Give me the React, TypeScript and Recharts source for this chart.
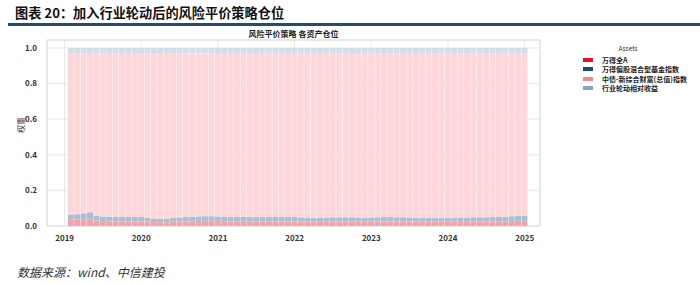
import React from 'react';
import { BarChart, Bar, XAxis, YAxis, CartesianGrid, ReferenceArea } from 'recharts';

// month-end positions, Jan 2019 .. Dec 2024
const YEARS = [2019, 2020, 2021, 2022, 2023, 2024];

const wandeQuanA = [
  0.035, 0.036, 0.038, 0.040, 0.030, 0.028, 0.027, 0.027, 0.026, 0.027, 0.027, 0.026,
  0.025, 0.022, 0.021, 0.022, 0.024, 0.025, 0.026, 0.027, 0.028, 0.029, 0.029, 0.028,
  0.027, 0.026, 0.026, 0.027, 0.027, 0.026, 0.026, 0.027, 0.027, 0.026, 0.026, 0.026,
  0.025, 0.024, 0.024, 0.023, 0.024, 0.025, 0.025, 0.025, 0.025, 0.024, 0.024, 0.025,
  0.025, 0.026, 0.026, 0.025, 0.025, 0.025, 0.024, 0.024, 0.024, 0.024, 0.024, 0.024,
  0.024, 0.023, 0.024, 0.025, 0.025, 0.025, 0.025, 0.026, 0.027, 0.028, 0.029, 0.029,
];

const pianGuHunHe = [
  0.030, 0.030, 0.033, 0.037, 0.028, 0.026, 0.025, 0.025, 0.025, 0.025, 0.024, 0.024,
  0.022, 0.020, 0.020, 0.020, 0.021, 0.023, 0.024, 0.025, 0.026, 0.026, 0.026, 0.025,
  0.024, 0.024, 0.025, 0.025, 0.025, 0.024, 0.024, 0.025, 0.025, 0.024, 0.024, 0.024,
  0.023, 0.023, 0.022, 0.022, 0.023, 0.024, 0.024, 0.024, 0.024, 0.023, 0.023, 0.023,
  0.024, 0.024, 0.025, 0.024, 0.024, 0.023, 0.023, 0.023, 0.023, 0.023, 0.022, 0.023,
  0.023, 0.022, 0.023, 0.024, 0.024, 0.024, 0.025, 0.025, 0.026, 0.027, 0.027, 0.028,
];

const zhongZhai = [
  0.905, 0.904, 0.900, 0.895, 0.911, 0.915, 0.916, 0.917, 0.918, 0.918, 0.919, 0.919,
  0.922, 0.926, 0.927, 0.927, 0.925, 0.922, 0.921, 0.919, 0.917, 0.916, 0.916, 0.917,
  0.919, 0.920, 0.919, 0.918, 0.918, 0.920, 0.920, 0.918, 0.918, 0.920, 0.920, 0.920,
  0.922, 0.923, 0.924, 0.925, 0.923, 0.921, 0.921, 0.921, 0.921, 0.923, 0.923, 0.922,
  0.921, 0.920, 0.919, 0.921, 0.921, 0.922, 0.923, 0.923, 0.923, 0.923, 0.924, 0.923,
  0.923, 0.925, 0.923, 0.921, 0.921, 0.921, 0.920, 0.919, 0.917, 0.915, 0.914, 0.913,
];

const hangYeLunDong = [
  0.030, 0.030, 0.029, 0.028, 0.031, 0.031, 0.032, 0.031, 0.031, 0.030, 0.030, 0.031,
  0.031, 0.032, 0.032, 0.031, 0.030, 0.030, 0.029, 0.029, 0.029, 0.029, 0.029, 0.030,
  0.030, 0.030, 0.030, 0.030, 0.030, 0.030, 0.030, 0.030, 0.030, 0.030, 0.030, 0.030,
  0.030, 0.030, 0.030, 0.030, 0.030, 0.030, 0.030, 0.030, 0.030, 0.030, 0.030, 0.030,
  0.030, 0.030, 0.030, 0.030, 0.030, 0.030, 0.030, 0.030, 0.030, 0.030, 0.030, 0.030,
  0.030, 0.030, 0.030, 0.030, 0.030, 0.030, 0.030, 0.030, 0.030, 0.030, 0.030, 0.030,
];

const SERIES_NAMES = ['万得全A', '万得偏股混合型基金指数', '中债-新综合财富(总值)指数', '行业轮动相对收益'];
const BAR_COLORS = ['#F5A3A8', '#A9BFD3', '#FED7DA', '#D4DEE8'];
const LEGEND_COLORS = ['#E8101A', '#124E86', '#F28A8D', '#86A6C1'];
const X_TICKS = [2019, 2020, 2021, 2022, 2023, 2024, 2025];
const Y_TICKS = [0, 0.2, 0.4, 0.6, 0.8, 1.0];
const X_DOMAIN = [2018.77, 2025.2];
const Y_DOMAIN = [0, 1.045];

const data = wandeQuanA.map((v, i) => ({
  t: YEARS[Math.floor(i / 12)] + ((i % 12) + 1) / 12,
  a: v,
  b: pianGuHunHe[i],
  c: zhongZhai[i],
  d: hangYeLunDong[i],
}));

const FONT = '"Noto Sans CJK SC", "Noto Sans", sans-serif';

const App: React.FC = () => {
  return (
    <div style={{ position: 'fixed', left: 0, top: 0, width: 700, height: 284, background: '#fff', fontFamily: FONT }}>
      <div style={{ position: 'absolute', left: 15, top: 3, fontSize: 13.2, fontWeight: 700, color: '#111', whiteSpace: 'nowrap' }}>
        图表 20：加入行业轮动后的风险平价策略仓位
      </div>
      <div style={{ position: 'absolute', left: 8, top: 23, width: 692, height: 3, background: '#1F4E79' }} />
      <div style={{ position: 'absolute', left: 200, width: 187, top: 28, textAlign: 'center', fontSize: 8, fontWeight: 600, color: '#222' }}>
        风险平价策略 各资产仓位
      </div>

      <BarChart width={700} height={284} data={data} margin={{ top: 40, right: 160, bottom: 38, left: 17 }}>
        <CartesianGrid stroke="#e8e8e8" />
        <XAxis
          dataKey="t"
          type="number"
          domain={X_DOMAIN}
          ticks={X_TICKS}
          height={20}
          axisLine={false}
          tickLine={false}
          tick={{ fontSize: 8, fill: '#333', fontWeight: 600, fontFamily: FONT }}
          tickMargin={3}
        />
        <YAxis
          type="number"
          domain={Y_DOMAIN}
          ticks={Y_TICKS}
          width={30}
          axisLine={false}
          tickLine={false}
          tickFormatter={(v: number) => v.toFixed(1)}
          tick={{ fontSize: 8, fill: '#333', fontWeight: 600, fontFamily: FONT }}
          tickMargin={4}
          label={{ value: '权重', angle: -90, position: 'insideLeft', offset: 4, fontSize: 8, fill: '#333', fontFamily: FONT }}
        />
        <ReferenceArea x1={X_DOMAIN[0]} x2={X_DOMAIN[1]} y1={Y_DOMAIN[0]} y2={Y_DOMAIN[1]} fill="none" stroke="#dcdcdc" />
        <Bar dataKey="a" name={SERIES_NAMES[0]} stackId="s" fill={BAR_COLORS[0]} barSize={6} isAnimationActive={false} />
        <Bar dataKey="b" name={SERIES_NAMES[1]} stackId="s" fill={BAR_COLORS[1]} barSize={6} isAnimationActive={false} />
        <Bar dataKey="c" name={SERIES_NAMES[2]} stackId="s" fill={BAR_COLORS[2]} barSize={6} isAnimationActive={false} />
        <Bar dataKey="d" name={SERIES_NAMES[3]} stackId="s" fill={BAR_COLORS[3]} barSize={6} isAnimationActive={false} />
      </BarChart>

      <div style={{ position: 'absolute', left: 580, top: 43, width: 110 }}>
        <div style={{ textAlign: 'center', fontSize: 6.5, color: '#333', width: 96 }}>Assets</div>
        {SERIES_NAMES.map((n, i) => (
          <div key={n} style={{ display: 'flex', alignItems: 'center', height: 9.5, marginTop: i === 0 ? 2 : 0 }}>
            <div style={{ width: 10, height: 4, background: LEGEND_COLORS[i], marginLeft: 3, marginRight: 9 }} />
            <div style={{ fontSize: 7, fontWeight: 600, color: '#222', whiteSpace: 'nowrap' }}>{n}</div>
          </div>
        ))}
      </div>

      <div style={{ position: 'absolute', left: 17, top: 263, fontSize: 12, fontStyle: 'italic', color: '#333', whiteSpace: 'nowrap' }}>
        数据来源：wind、中信建投
      </div>
    </div>
  );
};

export default App;
